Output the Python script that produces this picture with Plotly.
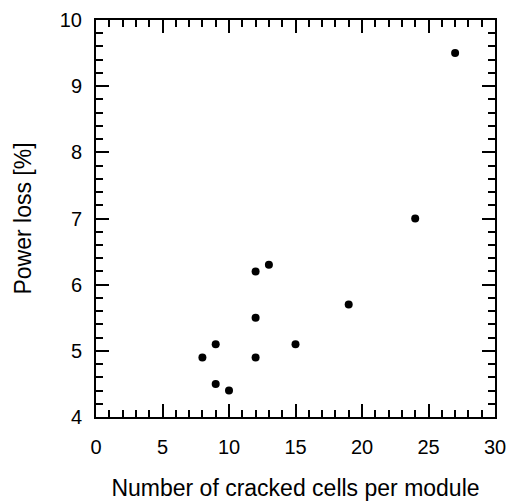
import plotly.graph_objects as go

# Cracked cells per module vs. measured power loss
cracked_cells = [27, 24, 12, 13, 19, 12, 9, 15, 8, 12, 9, 10]
power_loss = [9.5, 7.0, 6.2, 6.3, 5.7, 5.5, 5.1, 5.1, 4.9, 4.9, 4.5, 4.4]

x_ticks = [0, 5, 10, 15, 20, 25, 30]
y_ticks = [4, 5, 6, 7, 8, 9, 10]

FONT = "Liberation Sans, Arial, sans-serif"

fig = go.Figure(
    go.Scatter(
        x=cracked_cells,
        y=power_loss,
        mode="markers",
        marker=dict(color="black", size=8, line=dict(width=0)),
        showlegend=False,
    )
)

axis_common = dict(
    automargin=False,
    showgrid=False,
    zeroline=False,
    showline=True,
    linecolor="black",
    linewidth=2,
    mirror="ticks",
    ticks="inside",
    ticklen=13,
    tickwidth=2,
    tickcolor="black",
    tickfont=dict(family=FONT, size=20, color="black"),
)

fig.update_xaxes(
    range=[0, 30],
    tickvals=x_ticks,
    ticklabelstandoff=11,
    minor=dict(dtick=1, ticks="inside", ticklen=7, tickwidth=2, tickcolor="black"),
    title=dict(text="Number of cracked cells per module",
               font=dict(family=FONT, size=23, color="black"), standoff=23),
    **axis_common,
)
fig.update_yaxes(
    range=[4, 10],
    tickvals=y_ticks,
    ticklabelstandoff=8,
    minor=dict(dtick=0.2, ticks="inside", ticklen=7, tickwidth=2, tickcolor="black"),
    title=dict(text="Power loss [%]",
               font=dict(family=FONT, size=23, color="black"), standoff=22),
    **axis_common,
)

fig.update_layout(
    width=511,
    height=501,
    margin=dict(l=96, r=16, t=20, b=84, pad=0),
    paper_bgcolor="white",
    plot_bgcolor="white",
)

fig.write_html("out.html")
